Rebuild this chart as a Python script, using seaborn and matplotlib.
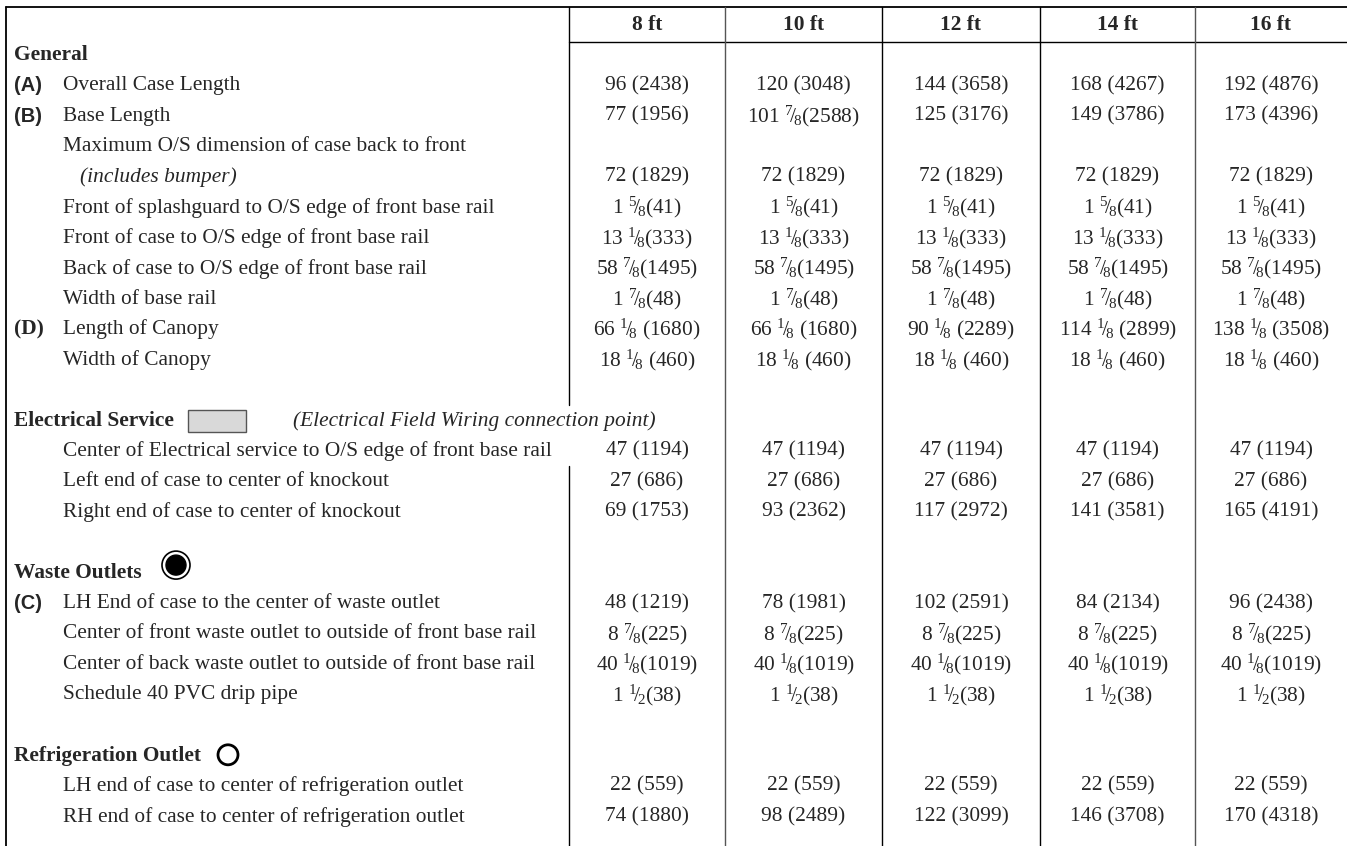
import re
import seaborn as sns
import matplotlib.pyplot as plt
from matplotlib.patches import Rectangle, Circle

# case sizes (column headers)
sizes = ["8 ft", "10 ft", "12 ft", "14 ft", "16 ft"]

# row text, "" = blank spacer row
row_marks = ["", "(A)", "(B)", "", "", "", "", "", "", "(D)", "",
             "", "", "", "", "",
             "", "", "(C)", "", "", "",
             "", "", "", ""]
row_labels = ["General", "Overall Case Length", "Base Length",
              "Maximum O/S dimension of case back to front", "(includes bumper)",
              "Front of splashguard to O/S edge of front base rail",
              "Front of case to O/S edge of front base rail",
              "Back of case to O/S edge of front base rail",
              "Width of base rail", "Length of Canopy", "Width of Canopy",
              "",
              "Electrical Service",
              "Center of Electrical service to O/S edge of front base rail",
              "Left end of case to center of knockout",
              "Right end of case to center of knockout",
              "",
              "Waste Outlets",
              "LH End of case to the center of waste outlet",
              "Center of front waste outlet to outside of front base rail",
              "Center of back waste outlet to outside of front base rail",
              "Schedule 40 PVC drip pipe",
              "",
              "Refrigeration Outlet",
              "LH end of case to center of refrigeration outlet",
              "RH end of case to center of refrigeration outlet"]
section_rows = ["General", "Electrical Service", "Waste Outlets", "Refrigeration Outlet"]

vals_8 = ["", "96 (2438)", "77 (1956)", "", "72 (1829)", "1 5/8(41)", "13 1/8(333)",
          "58 7/8(1495)", "1 7/8(48)", "66 1/8 (1680)", "18 1/8 (460)", "",
          "", "47 (1194)", "27 (686)", "69 (1753)", "",
          "", "48 (1219)", "8 7/8(225)", "40 1/8(1019)", "1 1/2(38)", "",
          "", "22 (559)", "74 (1880)"]
vals_10 = ["", "120 (3048)", "101 7/8(2588)", "", "72 (1829)", "1 5/8(41)", "13 1/8(333)",
           "58 7/8(1495)", "1 7/8(48)", "66 1/8 (1680)", "18 1/8 (460)", "",
           "", "47 (1194)", "27 (686)", "93 (2362)", "",
           "", "78 (1981)", "8 7/8(225)", "40 1/8(1019)", "1 1/2(38)", "",
           "", "22 (559)", "98 (2489)"]
vals_12 = ["", "144 (3658)", "125 (3176)", "", "72 (1829)", "1 5/8(41)", "13 1/8(333)",
           "58 7/8(1495)", "1 7/8(48)", "90 1/8 (2289)", "18 1/8 (460)", "",
           "", "47 (1194)", "27 (686)", "117 (2972)", "",
           "", "102 (2591)", "8 7/8(225)", "40 1/8(1019)", "1 1/2(38)", "",
           "", "22 (559)", "122 (3099)"]
vals_14 = ["", "168 (4267)", "149 (3786)", "", "72 (1829)", "1 5/8(41)", "13 1/8(333)",
           "58 7/8(1495)", "1 7/8(48)", "114 1/8 (2899)", "18 1/8 (460)", "",
           "", "47 (1194)", "27 (686)", "141 (3581)", "",
           "", "84 (2134)", "8 7/8(225)", "40 1/8(1019)", "1 1/2(38)", "",
           "", "22 (559)", "146 (3708)"]
vals_16 = ["", "192 (4876)", "173 (4396)", "", "72 (1829)", "1 5/8(41)", "13 1/8(333)",
           "58 7/8(1495)", "1 7/8(48)", "138 1/8 (3508)", "18 1/8 (460)", "",
           "", "47 (1194)", "27 (686)", "165 (4191)", "",
           "", "96 (2438)", "8 7/8(225)", "40 1/8(1019)", "1 1/2(38)", "",
           "", "22 (559)", "170 (4318)"]
columns = [vals_8, vals_10, vals_12, vals_14, vals_16]

sns.set_theme(style="white")
plt.rcParams['font.family'] = ['Liberation Serif', 'DejaVu Serif']
plt.rcParams['mathtext.fontset'] = 'custom'
plt.rcParams['mathtext.rm'] = 'Liberation Serif'
plt.rcParams['mathtext.it'] = 'Liberation Serif:italic'
plt.rcParams['mathtext.bf'] = 'Liberation Serif:bold'

W, H = 1347, 846
fig = plt.figure(figsize=(W / 100, H / 100), dpi=100)
ax = fig.add_axes([0, 0, 1, 1])
ax.set_xlim(0, W)
ax.set_ylim(H, 0)
ax.axis("off")

fs = 15.4
y0, pitch = 25, 30.45
def row_y(i):
    return y0 + (i + 1) * pitch

col_edges = [569, 725, 882, 1040, 1195, W]
col_centers = [(a + b) / 2 for a, b in zip(col_edges[:-1], col_edges[1:])]

def frac(s):
    return re.sub(r"(\d+)/(\d+)", r"${}^{\1}\!/\!{}_{\2}$", s)

# grid lines
ax.plot([6, W], [7, 7], color="black", lw=1.3)
ax.plot([6, 6], [7, H], color="black", lw=1.3)
ax.plot([col_edges[0], W], [42, 42], color="black", lw=1.0)
ax.plot([col_edges[0]] * 2, [7, 405], color="black", lw=1.0)
ax.plot([col_edges[0]] * 2, [466, H], color="black", lw=1.0)
for k, x in enumerate(col_edges[1:-1]):
    ax.plot([x, x], [7, H], color="#555555" if k % 3 == 0 else "black", lw=1.0)

# header
for x, s in zip(col_centers, sizes):
    ax.text(x, y0, s, ha="center", va="center", fontsize=fs, fontweight="bold")

# rows
for i, (mark, label) in enumerate(zip(row_marks, row_labels)):
    y = row_y(i)
    if label in section_rows:
        ax.text(14, y, label, ha="left", va="center", fontsize=fs, fontweight="bold")
    elif label == "(includes bumper)":
        ax.text(80, y, label, ha="left", va="center", fontsize=fs, style="italic")
    elif label:
        ax.text(63, y, label, ha="left", va="center", fontsize=fs)
    if mark == "(D)":
        ax.text(14, y, mark, ha="left", va="center", fontsize=fs, fontweight="bold")
    elif mark:
        ax.text(14, y, mark, ha="left", va="center", fontsize=fs - 1,
                fontweight="bold", family="Liberation Sans")
    for x, vals in zip(col_centers, columns):
        if vals[i]:
            ax.text(x, y, frac(vals[i]), ha="center", va="center", fontsize=fs)

# section icons
ye = row_y(row_labels.index("Electrical Service"))
ax.add_patch(Rectangle((188, ye - 11), 58, 22, facecolor="#d9d9d9",
                       edgecolor="#555555", lw=1.0))
ax.text(293, ye, "(Electrical Field Wiring connection point)", ha="left",
        va="center", fontsize=fs, style="italic")

yw = row_y(row_labels.index("Waste Outlets"))
ax.add_patch(Circle((176, yw - 8), 14, facecolor="white", edgecolor="black", lw=1.2))
ax.add_patch(Circle((176, yw - 8), 10, facecolor="black", edgecolor="black"))

yr = row_y(row_labels.index("Refrigeration Outlet"))
ax.add_patch(Circle((228, yr - 1), 10, facecolor="none", edgecolor="black", lw=2.0))

fig.savefig("out.png", dpi=100)
